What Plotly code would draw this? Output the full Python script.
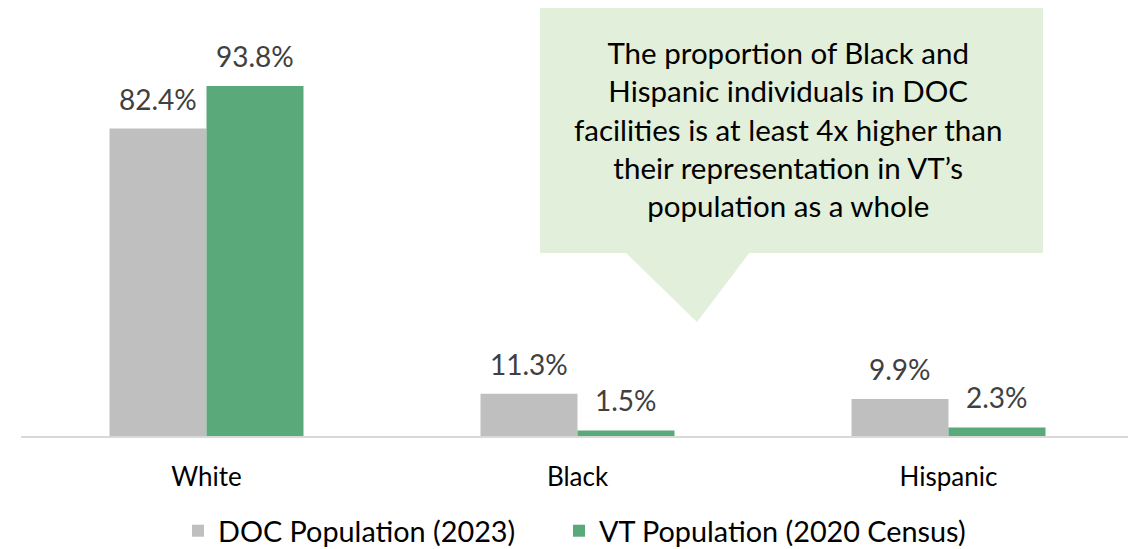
import plotly.graph_objects as go

categories = ["White", "Black", "Hispanic"]
doc_values = [82.4, 11.3, 9.9]
vt_values = [93.8, 1.5, 2.3]
series_names = ["DOC Population (2023)", "VT Population (2020 Census)"]
callout_lines = [
    "The proportion of Black and",
    "Hispanic individuals in DOC",
    "facilities is at least 4x higher than",
    "their representation in VT\u2019s",
    "population as a whole",
]

GRAY = "#BFBFBF"
GREEN = "#5AA97B"
CALLOUT = "#E2EFDA"
FONT = "Lato"

W, H = 1128, 549
L, R, T, B = 21, 0, 0, 113
plot_w = W - L - R
plot_h = H - T - B
px_per_cat = 371.0
px_per_unit = 350 / 93.8

fig = go.Figure()
fig.add_trace(go.Bar(x=categories, y=doc_values, name=series_names[0],
                     marker=dict(color=GRAY, line=dict(width=0)), legend="legend"))
fig.add_trace(go.Bar(x=categories, y=vt_values, name=series_names[1],
                     marker=dict(color=GREEN, line=dict(width=0)), legend="legend2"))

annotations = []
half = 48.5
for cat, v in zip(categories, doc_values):
    annotations.append(dict(x=cat, y=v, xref="x", yref="y", text=f"{v:.1f}%",
                            showarrow=False, xshift=-half, yshift=30,
                            yanchor="middle", xanchor="center",
                            font=dict(family=FONT, size=28, color="#404040")))
for cat, v in zip(categories, vt_values):
    annotations.append(dict(x=cat, y=v, xref="x", yref="y", text=f"{v:.1f}%",
                            showarrow=False, xshift=half, yshift=30,
                            yanchor="middle", xanchor="center",
                            font=dict(family=FONT, size=28, color="#404040")))


def px2x(px):
    return (px - L) / plot_w


def px2y(py):
    return (T + plot_h - py) / plot_h


rx0, rx1, ry0, ry1 = 540, 1043, 8, 253
annotations.append(dict(x=px2x(788), y=px2y(129), xref="paper", yref="paper",
                        text="<br>".join(callout_lines), showarrow=False,
                        xanchor="center", yanchor="middle", align="center",
                        font=dict(family=FONT, size=29.5, color="#000000")))

shapes = [
    dict(type="rect", xref="paper", yref="paper",
         x0=px2x(rx0), x1=px2x(rx1), y0=px2y(ry1), y1=px2y(ry0),
         fillcolor=CALLOUT, line=dict(width=0), layer="below"),
    dict(type="path", xref="paper", yref="paper",
         path=(f"M {px2x(625)} {px2y(ry1 - 1)} L {px2x(750)} {px2y(ry1 - 1)} "
               f"L {px2x(697)} {px2y(322)} Z"),
         fillcolor=CALLOUT, line=dict(width=0), layer="below"),
]

legend_common = dict(orientation="h", xanchor="left", yanchor="middle",
                     font=dict(family=FONT, size=28.8, color="#000000"),
                     itemwidth=30, bgcolor="rgba(0,0,0,0)")

x_end = -0.5 + plot_w / px_per_cat
fig.update_layout(
    width=W, height=H,
    margin=dict(l=L, r=R, t=T, b=B, pad=0, autoexpand=False),
    paper_bgcolor="white", plot_bgcolor="white",
    barmode="group", bargap=1 - 194 / px_per_cat, bargroupgap=0,
    font=dict(family=FONT, color="#000000"),
    xaxis=dict(type="category", range=[-0.5, x_end], showgrid=False,
               showline=True, linecolor="#D9D9D9", linewidth=2,
               ticks="", ticklabelstandoff=17, automargin=False,
               tickfont=dict(family=FONT, size=26, color="#000000"),
               fixedrange=True),
    yaxis=dict(range=[0, plot_h / px_per_unit], visible=False, showgrid=False,
               zeroline=False, fixedrange=True),
    legend=dict(x=px2x(178), y=px2y(531), **legend_common),
    legend2=dict(x=px2x(559), y=px2y(531), **legend_common),
    annotations=annotations,
    shapes=shapes,
    showlegend=True,
)

fig.write_html("out.html", config={"displayModeBar": False},
               post_script="document.body.style.margin='0';document.body.style.overflow='hidden';")
